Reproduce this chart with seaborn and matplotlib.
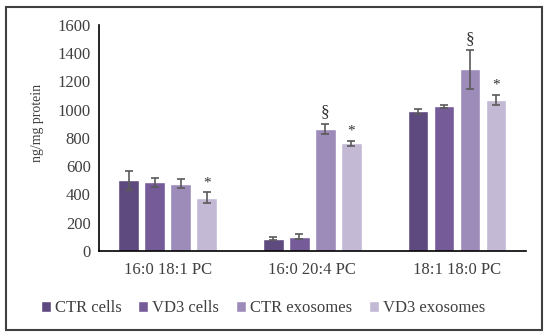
import matplotlib
matplotlib.use("Agg")
import matplotlib.pyplot as plt
import pandas as pd
import seaborn as sns
from matplotlib.patches import Rectangle

# data
categorias = ["16:0 18:1 PC", "16:0 20:4 PC", "18:1 18:0 PC"]
grupos = ["CTR cells", "VD3 cells", "CTR exosomes", "VD3 exosomes"]
valores = {
    "CTR cells": [500, 87, 988],
    "VD3 cells": [486, 102, 1024],
    "CTR exosomes": [477, 864, 1286],
    "VD3 exosomes": [376, 762, 1069],
}
errores = {
    "CTR cells": [65, 12, 18],
    "VD3 cells": [33, 19, 11],
    "CTR exosomes": [31, 38, 136],
    "VD3 exosomes": [39, 17, 37],
}
marcas = {
    "CTR exosomes": ["", "§", "§"],
    "VD3 exosomes": ["*", "*", "*"],
}
colores = ["#5f4a7f", "#755c99", "#9d8bba", "#c3b9d5"]

filas = []
for g in grupos:
    for c, v in zip(categorias, valores[g]):
        filas.append({"lipido": c, "grupo": g, "valor": v})
df = pd.DataFrame(filas)

sns.set_style("white")
plt.rcParams["font.family"] = ["Liberation Serif", "DejaVu Serif"]

fig = plt.figure(figsize=(5.5, 3.36), dpi=100)
ax = fig.add_axes([0.18, 0.253, 0.776, 0.6726])

sns.barplot(
    data=df,
    x="lipido",
    y="valor",
    hue="grupo",
    hue_order=grupos,
    order=categorias,
    palette=colores,
    width=0.72,
    gap=0.2,
    errorbar=None,
    saturation=1,
    ax=ax,
)

for cont, g in zip(ax.containers, grupos):
    xs = [b.get_x() + b.get_width() / 2 for b in cont]
    hs = [b.get_height() for b in cont]
    ax.errorbar(
        xs, hs, yerr=errores[g], fmt="none",
        ecolor="#5a5a5a", elinewidth=1.2, capsize=3, capthick=1.2,
    )
    if g in marcas:
        for x, h, e, m in zip(xs, hs, errores[g], marcas[g]):
            if m:
                ax.text(x, h + e + 22, m, ha="center", va="bottom",
                        fontsize=12.5 if m == "§" else 11, color="#333333")

ax.set_ylim(0, 1600)
ax.set_yticks(range(0, 1601, 200))
ax.set_xlabel("")
ax.set_ylabel("ng/mg protein", fontsize=10, color="#404040")
ax.yaxis.set_label_coords(-0.128, 0.565)
ax.tick_params(axis="both", labelsize=12, colors="#404040", length=0)
ax.tick_params(axis="x", pad=8)
ax.tick_params(axis="y", pad=6)

for lado in ["top", "right"]:
    ax.spines[lado].set_visible(False)
for lado in ["left", "bottom"]:
    ax.spines[lado].set_color("black")
    ax.spines[lado].set_linewidth(1.2)

ax.legend(
    loc="center",
    bbox_to_anchor=(0.478, 0.083),
    bbox_transform=fig.transFigure,
    ncol=4,
    frameon=False,
    fontsize=12,
    handlelength=0.6,
    handleheight=0.6,
    handletextpad=0.25,
    columnspacing=1.0,
    labelcolor="#404040",
)

fig.patches.append(Rectangle((0.01, 0.018), 0.976, 0.962, transform=fig.transFigure,
                             fill=False, edgecolor="#404040", linewidth=1.5))

fig.savefig("out.png", dpi=100)
